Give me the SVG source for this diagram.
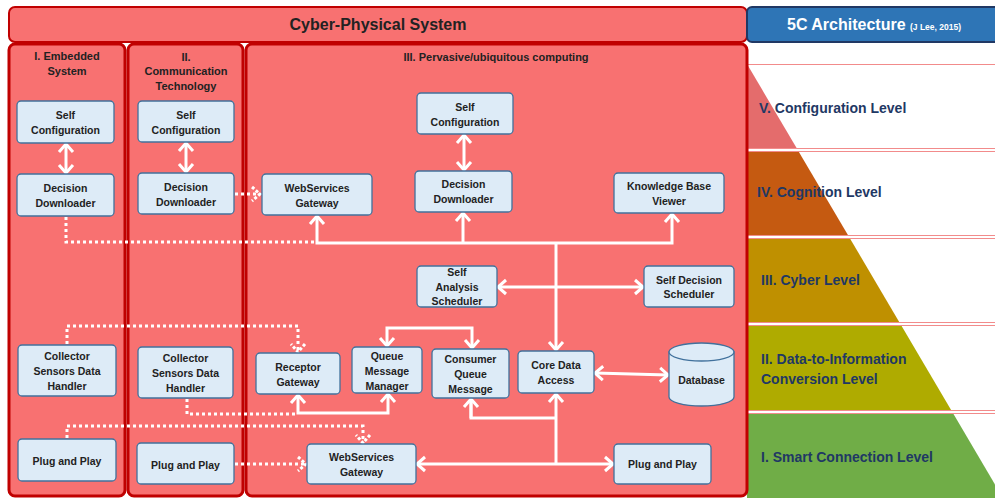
<svg xmlns="http://www.w3.org/2000/svg" width="995" height="498" viewBox="0 0 995 498">
<style>
.col{fill:#F87171;stroke:#C00000;stroke-width:3}
.hdr{fill:#F87171;stroke:#C00000;stroke-width:2}
.nd{fill:#DDEBF7;stroke:#41719C;stroke-width:1.3}
.t{font-family:"Liberation Sans",Arial,sans-serif;font-weight:bold;font-size:10.5px;fill:#222;text-anchor:middle}
.ct{font-family:"Liberation Sans",Arial,sans-serif;font-weight:bold;font-size:11px;fill:#222;text-anchor:middle}
.lv{font-family:"Liberation Sans",Arial,sans-serif;font-weight:bold;font-size:14px;fill:#1F3864}
.s{fill:none;stroke:#fff;stroke-width:3}
.d{fill:none;stroke:#fff;stroke-width:3;stroke-dasharray:3 3}
.sep{stroke:#F28B8B;stroke-width:1}
</style>
<defs>
<marker id="a" markerUnits="userSpaceOnUse" markerWidth="16" markerHeight="18" refX="11" refY="9" orient="auto-start-reverse">
<path d="M3,2 L11,9 L3,16" fill="none" stroke="#fff" stroke-width="3"/>
</marker>
<marker id="ad" markerUnits="userSpaceOnUse" markerWidth="16" markerHeight="18" refX="11" refY="9" orient="auto-start-reverse">
<path d="M3,2 L11,9 L3,16" fill="none" stroke="#fff" stroke-width="3" stroke-dasharray="3 2"/>
</marker>
</defs>
<rect width="995" height="498" fill="#fff"/>

<g id="pyramid">
<polygon points="747,64 797.2,149 747,149" fill="#E46C6C"/>
<polygon points="747,151 798.3,151 848.5,236 747,236" fill="#C55A11"/>
<polygon points="747,238 849.7,238 899.8,323 747,323" fill="#BF9000"/>
<polygon points="747,326 901.6,326 951.7,411 747,411" fill="#AFAB00"/>
<polygon points="747,414 953.5,414 1003,498 747,498" fill="#70AD47"/>
<line class="sep" x1="747" y1="64.5" x2="995" y2="64.5"/>
<line class="sep" x1="747" y1="148.5" x2="995" y2="148.5"/>
<line class="sep" x1="747" y1="151.5" x2="995" y2="151.5"/>
<line class="sep" x1="747" y1="235.5" x2="995" y2="235.5"/>
<line class="sep" x1="747" y1="238.5" x2="995" y2="238.5"/>
<line class="sep" x1="747" y1="322.5" x2="995" y2="322.5"/>
<line class="sep" x1="747" y1="325.5" x2="995" y2="325.5"/>
<line class="sep" x1="747" y1="410.5" x2="995" y2="410.5"/>
<line class="sep" x1="747" y1="413.5" x2="995" y2="413.5"/>
<text class="lv" x="759" y="113">V. Configuration Level</text>
<text class="lv" x="757" y="197">IV. Cognition Level</text>
<text class="lv" x="761" y="285">III. Cyber Level</text>
<text class="lv" x="761" y="364">II. Data-to-Information</text>
<text class="lv" x="761" y="384">Conversion Level</text>
<text class="lv" x="761" y="462">I. Smart Connection Level</text>
</g>

<g id="header-cps">
<rect class="hdr" x="9" y="7" width="738" height="35" rx="6"/>
<text x="378" y="30" font-family="'Liberation Sans',Arial,sans-serif" font-weight="bold" font-size="16" fill="#222" text-anchor="middle">Cyber-Physical System</text>
</g>
<g id="header-5c">
<rect x="747" y="7" width="256" height="35" rx="5" fill="#2E75B6" stroke="#203864" stroke-width="2"/>
<text x="787" y="30" font-family="'Liberation Sans',Arial,sans-serif" font-weight="bold" font-size="16" fill="#fff">5C Architecture <tspan font-size="8.5">(J Lee, 2015)</tspan></text>
</g>

<g id="col1">
<rect class="col" x="9" y="44" width="116" height="452" rx="6"/>
<text class="ct" x="67" y="60">I. Embedded</text>
<text class="ct" x="67" y="75">System</text>
</g>
<g id="col2">
<rect class="col" x="128" y="44" width="115" height="452" rx="6"/>
<text class="ct" x="186" y="61">II.</text>
<text class="ct" x="186" y="75">Communication</text>
<text class="ct" x="186" y="90">Technology</text>
</g>
<g id="col3">
<rect class="col" x="246" y="44" width="501" height="452" rx="6"/>
<text class="ct" x="496" y="61">III. Pervasive/ubiquitous computing</text>
</g>

<g id="connectors">
<path class="s" d="M66,144 L66,173" marker-start="url(#a)" marker-end="url(#a)"/>
<path class="s" d="M186,143 L186,172" marker-start="url(#a)" marker-end="url(#a)"/>
<path class="s" d="M464,135 L464,170" marker-start="url(#a)" marker-end="url(#a)"/>
<path class="d" d="M66,217 L66,242 L316,242"/>
<path class="s" d="M317,216 L317,243 L672,243 L672,214" marker-start="url(#a)" marker-end="url(#a)"/>
<path class="s" d="M463,243 L463,213" marker-end="url(#a)"/>
<path class="s" d="M556,243 L556,350" marker-end="url(#a)"/>
<path class="s" d="M498,287 L643,287" marker-start="url(#a)" marker-end="url(#a)"/>
<path class="d" d="M235,194 L260,194" marker-end="url(#ad)"/>
<path class="s" d="M387,346 L387,328 L472,328 L472,348" marker-start="url(#a)" marker-end="url(#a)"/>
<path class="s" d="M298,395 L298,413 L388,413 L388,394" marker-start="url(#a)" marker-end="url(#a)"/>
<path class="s" d="M471,399 L471,418 L556,418"/>
<path class="s" d="M471,418 L471,399" marker-end="url(#a)"/>
<path class="s" d="M556,464 L556,394" marker-end="url(#a)"/>
<path class="s" d="M417,464 L613,464" marker-start="url(#a)" marker-end="url(#a)"/>
<path class="s" d="M595,373 L668,375" marker-start="url(#a)" marker-end="url(#a)"/>
<path class="d" d="M67,344 L67,326 L298,326 L298,352" marker-end="url(#ad)"/>
<path class="d" d="M187,399 L187,414 L297,414"/>
<path class="d" d="M67,438 L67,426 L363,426 L363,443" marker-end="url(#ad)"/>
<path class="d" d="M235,464 L306,464" marker-end="url(#ad)"/>
</g>

<g id="n-sc1"><rect class="nd" x="17" y="101" width="97" height="42" rx="4"/><text class="t" x="65.5" y="119">Self</text><text class="t" x="65.5" y="134">Configuration</text></g>
<g id="n-dd1"><rect class="nd" x="17" y="174" width="97" height="42" rx="4"/><text class="t" x="65.5" y="192">Decision</text><text class="t" x="65.5" y="207">Downloader</text></g>
<g id="n-sc2"><rect class="nd" x="138" y="101" width="96" height="41" rx="4"/><text class="t" x="186" y="119">Self</text><text class="t" x="186" y="134">Configuration</text></g>
<g id="n-dd2"><rect class="nd" x="138" y="173" width="96" height="41" rx="4"/><text class="t" x="186" y="191">Decision</text><text class="t" x="186" y="206">Downloader</text></g>
<g id="n-wsg1"><rect class="nd" x="262" y="174" width="110" height="41" rx="4"/><text class="t" x="317" y="192">WebServices</text><text class="t" x="317" y="207">Gateway</text></g>
<g id="n-sc3"><rect class="nd" x="417" y="93" width="96" height="41" rx="4"/><text class="t" x="465" y="111">Self</text><text class="t" x="465" y="126">Configuration</text></g>
<g id="n-dd3"><rect class="nd" x="415" y="171" width="97" height="41" rx="4"/><text class="t" x="463.5" y="188">Decision</text><text class="t" x="463.5" y="203">Downloader</text></g>
<g id="n-kbv"><rect class="nd" x="614" y="173" width="110" height="40" rx="4"/><text class="t" x="669" y="190">Knowledge Base</text><text class="t" x="669" y="205">Viewer</text></g>
<g id="n-sas"><rect class="nd" x="417" y="266" width="80" height="41" rx="4"/><text class="t" x="457" y="276">Self</text><text class="t" x="457" y="291">Analysis</text><text class="t" x="457" y="305">Scheduler</text></g>
<g id="n-sds"><rect class="nd" x="644" y="266" width="90" height="41" rx="4"/><text class="t" x="689" y="284">Self Decision</text><text class="t" x="689" y="298">Scheduler</text></g>
<g id="n-csdh1"><rect class="nd" x="18" y="345" width="98" height="51" rx="4"/><text class="t" x="67" y="360">Collector</text><text class="t" x="67" y="375">Sensors Data</text><text class="t" x="67" y="390">Handler</text></g>
<g id="n-csdh2"><rect class="nd" x="138" y="347" width="95" height="51" rx="4"/><text class="t" x="185.5" y="362">Collector</text><text class="t" x="185.5" y="377">Sensors Data</text><text class="t" x="185.5" y="392">Handler</text></g>
<g id="n-rg"><rect class="nd" x="256" y="353" width="84" height="41" rx="4"/><text class="t" x="298" y="371">Receptor</text><text class="t" x="298" y="386">Gateway</text></g>
<g id="n-qmm"><rect class="nd" x="352" y="347" width="70" height="46" rx="4"/><text class="t" x="387" y="360">Queue</text><text class="t" x="387" y="375">Message</text><text class="t" x="387" y="390">Manager</text></g>
<g id="n-cqm"><rect class="nd" x="432" y="349" width="77" height="49" rx="4"/><text class="t" x="470.5" y="363">Consumer</text><text class="t" x="470.5" y="378">Queue</text><text class="t" x="470.5" y="393">Message</text></g>
<g id="n-cda"><rect class="nd" x="518" y="351" width="76" height="42" rx="4"/><text class="t" x="556" y="369">Core Data</text><text class="t" x="556" y="384">Access</text></g>
<g id="n-db">
<path class="nd" d="M669,352 L669,397 A32.5,9 0 0 0 734,397 L734,352 Z"/>
<ellipse class="nd" cx="701.5" cy="352" rx="32.5" ry="9"/>
<text class="t" x="701.5" y="384">Database</text>
</g>
<g id="n-pp1"><rect class="nd" x="18" y="439" width="98" height="42" rx="4"/><text class="t" x="67" y="465">Plug and Play</text></g>
<g id="n-pp2"><rect class="nd" x="137" y="443" width="97" height="41" rx="4"/><text class="t" x="185.5" y="469">Plug and Play</text></g>
<g id="n-wsg2"><rect class="nd" x="307" y="444" width="109" height="40" rx="4"/><text class="t" x="361.5" y="461">WebServices</text><text class="t" x="361.5" y="476">Gateway</text></g>
<g id="n-pp3"><rect class="nd" x="614" y="444" width="97" height="40" rx="4"/><text class="t" x="662.5" y="468">Plug and Play</text></g>
</svg>
